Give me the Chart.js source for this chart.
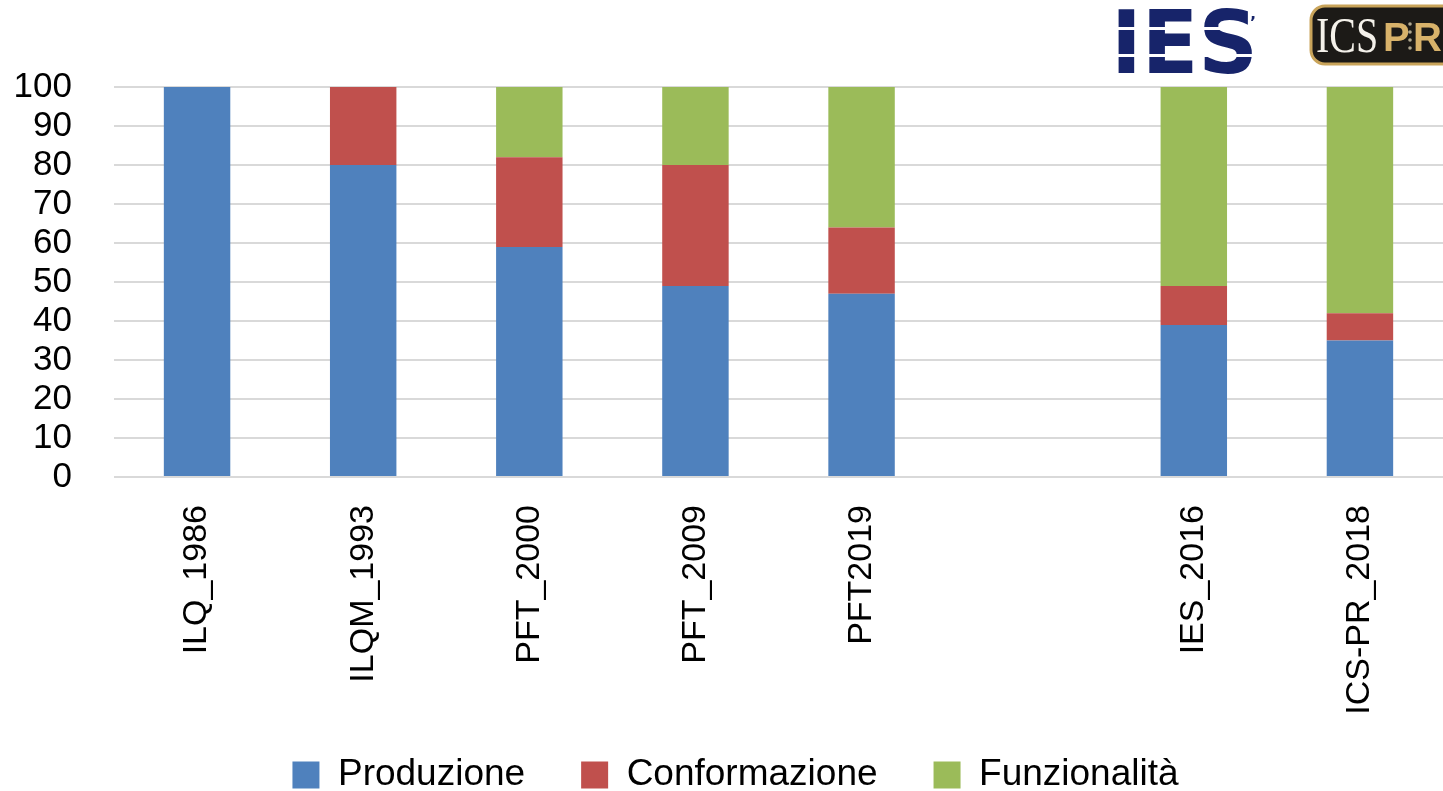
<!DOCTYPE html>
<html>
<head>
<meta charset="utf-8">
<script src="https://cdn.jsdelivr.net/npm/chart.js@4.4.1/dist/chart.umd.min.js"></script>
<style>
  html, body { margin: 0; padding: 0; background: #fff; }
  #wrap { width: 1443px; height: 791px; position: relative; }
</style>
</head>
<body>
<div id="wrap"><canvas id="c"></canvas></div>
<script>
const categories = ['ILQ_1986', 'ILQM_1993', 'PFT_2000', 'PFT_2009', 'PFT2019', '', 'IES_2016', 'ICS-PR_2018'];
const produzione = [100, 80, 59, 49, 47, null, 39, 35];
const conformazione = [0, 20, 23, 31, 17, null, 10, 7];
const funzionalita = [0, 0, 18, 20, 36, null, 51, 58];
const seriesNames = ['Produzione', 'Conformazione', 'Funzionalità'];
const seriesColors = ['#4f81bd', '#c0504d', '#9bbb59'];
const yMin = 0, yMax = 100, yStep = 10;

const FONT = 'Liberation Sans';

const legendShift = {
  id: 'legendShift',
  afterLayout(chart) {
    const lg = chart.legend;
    if (!lg) return;
    const pad = lg.options.labels.padding;
    const fs = lg.options.labels.font.size;
    lg.top = 775 - pad - fs / 2;
    lg.bottom = chart.height;
    lg.height = lg.bottom - lg.top;
    lg.left += 14;
    lg.right += 14;
  }
};

const logoPlugin = {
  id: 'logos',
  afterDraw(chart) {
    const ctx = chart.ctx;
    // IES logo
    ctx.save();
    const bx = 1111, by = 10, bw = 147, bh = 63;
    ctx.font = 'bold 80px "DejaVu Sans"';
    ctx.textBaseline = 'alphabetic';
    const m = ctx.measureText('IES');
    const capH = 80 * 0.729;
    ctx.translate(bx, by);
    ctx.scale(bw / m.width, bh / capH);
    ctx.fillStyle = '#17246a';
    ctx.fillText('IES', 0, capH);
    ctx.restore();
    ctx.save();
    ctx.fillStyle = '#ffffff';
    ctx.fillRect(bx, 27, bw, 3);
    ctx.fillRect(bx, 54, bw, 3);
    ctx.fillStyle = '#17246a';
    ctx.font = 'bold 16px "DejaVu Sans"';
    ctx.fillText('\u2019', 1250, 24);
    ctx.restore();

    // ICSPR logo
    ctx.save();
    ctx.beginPath();
    ctx.roundRect(1311, 6, 150, 58, 14);
    ctx.fillStyle = '#1c1a17';
    ctx.fill();
    ctx.lineWidth = 3;
    ctx.strokeStyle = '#c9a45a';
    ctx.stroke();
    ctx.fillStyle = '#f4f1ea';
    ctx.font = '50px "Liberation Serif"';
    ctx.textBaseline = 'alphabetic';
    ctx.save();
    ctx.translate(1316, 52);
    ctx.scale(0.8, 1);
    ctx.fillText('ICS', 0, 0);
    ctx.restore();
    ctx.fillStyle = '#d8b26a';
    ctx.font = 'bold 40px ' + FONT;
    ctx.fillText('P', 1383, 51);
    ctx.fillText('R', 1413, 51);
    ctx.fillStyle = '#b0a890';
    for (let i = 0; i < 4; i++) {
      ctx.beginPath();
      ctx.arc(1410, 24 + i * 8, 1.8, 0, Math.PI * 2);
      ctx.fill();
    }
    ctx.restore();
  }
};

new Chart(document.getElementById('c'), {
  type: 'bar',
  data: {
    labels: categories,
    datasets: [
      { label: seriesNames[0], data: produzione, backgroundColor: seriesColors[0] },
      { label: seriesNames[1], data: conformazione, backgroundColor: seriesColors[1] },
      { label: seriesNames[2], data: funzionalita, backgroundColor: seriesColors[2] }
    ]
  },
  options: {
    responsive: true,
    maintainAspectRatio: false,
    animation: false,
    layout: { padding: { top: 87, left: 0, right: 0, bottom: 0 } },
    datasets: { bar: { categoryPercentage: 1.0, barPercentage: 0.4, borderWidth: 0 } },
    plugins: {
      legend: {
        position: 'bottom',
        maxHeight: 69,
        labels: {
          font: { family: FONT, size: 37 },
          color: '#000',
          boxWidth: 27,
          boxHeight: 27,
          padding: 56
        }
      },
      tooltip: { enabled: false }
    },
    scales: {
      x: {
        stacked: true,
        grid: { display: false, drawTicks: false },
        border: { display: false },
        ticks: {
          autoSkip: false,
          minRotation: 90,
          maxRotation: 90,
          padding: 28,
          color: '#000',
          font: { family: FONT, size: 34 }
        },
        afterFit(scale) { scale.height = 245; }
      },
      y: {
        stacked: true,
        min: yMin,
        max: yMax,
        grid: { color: '#d9d9d9', lineWidth: 2, drawTicks: false },
        border: { display: false },
        ticks: {
          autoSkip: false,
          stepSize: yStep,
          padding: 42,
          color: '#000',
          font: { family: FONT, size: 35 }
        },
        afterFit(scale) { scale.width = 114; }
      }
    }
  },
  plugins: [legendShift, logoPlugin]
});
</script>
</body>
</html>
